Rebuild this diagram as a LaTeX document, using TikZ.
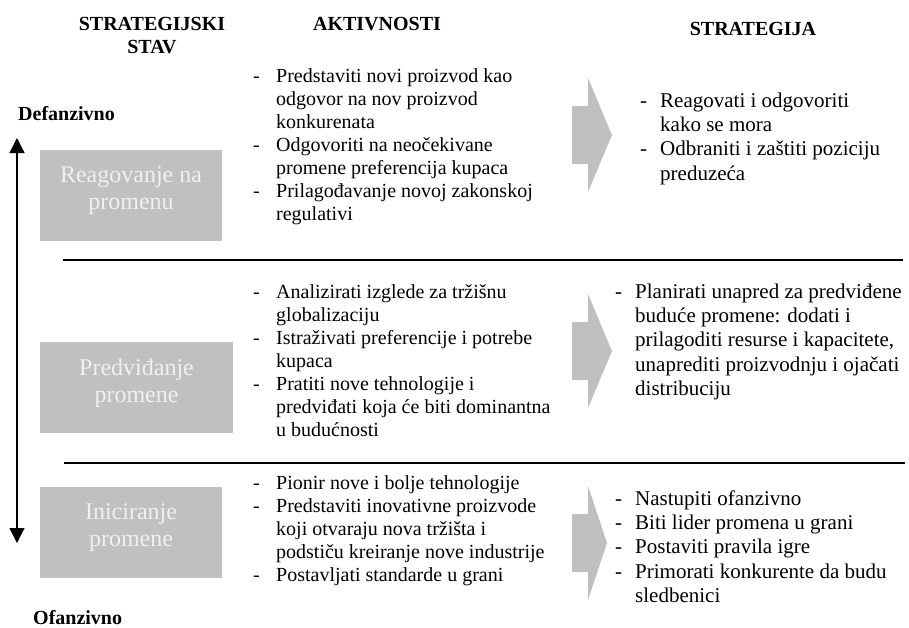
\documentclass[tikz,border=0pt]{standalone}
\usepackage{fontspec}
\setmainfont{Liberation Serif}
\usepackage{array}
\usetikzlibrary{arrows.meta}
\definecolor{boxgray}{RGB}{192,192,192}
\definecolor{labelwhite}{RGB}{240,240,240}
\newcolumntype{D}[1]{@{}p{#1}@{}l@{}}

\begin{document}
\begin{tikzpicture}[x=1pt, y=-1pt,
	heading/.style={inner sep=0, anchor=base, font=\bfseries\fontsize{20}{23}\selectfont},
	side/.style={inner sep=0, anchor=base west, font=\bfseries\fontsize{20}{23}\selectfont},
	stance/.style={fill=boxgray, text=labelwhite, inner sep=0, minimum height=91pt, align=center, font=\fontsize{24}{27}\selectfont, execute at end node={\rule[-14pt]{0pt}{0pt}}},
	activity/.style={inner sep=0, anchor=base west, font=\fontsize{20}{23}\selectfont},
	strategy/.style={inner sep=0, anchor=base west, font=\fontsize{21}{24.4}\selectfont}]

	\useasboundingbox (0,0) rectangle (909,627);

	% headings
	\node[heading] (stavhead) at (152,30) {\begin{tabular}[t]{@{}c@{}}STRATEGIJSKI\\STAV\end{tabular}};
	\node[heading] (akthead) at (377,30) {AKTIVNOSTI};
	\node[heading] (strhead) at (753,35) {STRATEGIJA};

	% defensive / offensive axis
	\node[side] (defanzivno) at (18,120) {Defanzivno};
	\node[side] (ofanzivno) at (33,624) {Ofanzivno};
	\coordinate (deftop) at (17,138);
	\coordinate (ofbottom) at (17,543);
	\draw[{Triangle[width=15pt,length=15pt]}-{Triangle[width=15pt,length=15pt]}, line width=1.3pt] (deftop) -- (ofbottom);

	% stances
	\node[stance, minimum width=182pt] (reagovanje) at (131,195.5) {Reagovanje na\\promenu};
	\node[stance, minimum width=193pt] (predvidjanje) at (136.5,387.5) {Predviđanje\\promene};
	\node[stance, minimum width=182pt] (iniciranje) at (131,532) {Iniciranje\\promene};

	% separators
	\draw[line width=2pt] (63,260) -- (903,260);
	\draw[line width=2pt] (64,463) -- (905,463);

	% activities
	\node[activity] (akt1) at (253,82) {\begin{tabular}[t]{D{23pt}}
		- & Predstaviti novi proizvod kao\\
		  & odgovor na nov proizvod\\
		  & konkurenata\\
		- & Odgovoriti na neočekivane\\
		  & promene preferencija kupaca\\
		- & Prilagođavanje novoj zakonskoj\\
		  & regulativi
	\end{tabular}};
	\node[activity] (akt2) at (253,298) {\begin{tabular}[t]{D{23pt}}
		- & Analizirati izglede za tržišnu\\
		  & globalizaciju\\
		- & Istraživati preferencije i potrebe\\
		  & kupaca\\
		- & Pratiti nove tehnologije i\\
		  & predviđati koja će biti dominantna\\
		  & u budućnosti
	\end{tabular}};
	\node[activity] (akt3) at (253,489) {\begin{tabular}[t]{D{23pt}}
		- & Pionir nove i bolje tehnologije\\
		- & Predstaviti inovativne proizvode\\
		  & koji otvaraju nova tržišta i\\
		  & podstiču kreiranje nove industrije\\
		- & Postavljati standarde u grani
	\end{tabular}};

	% arrows towards strategy
	\foreach \y/\l in {135/24, 351/24, 543/19}
		\fill[boxgray] (572,\y-29) -- (588,\y-29) -- (588,\y-57) -- (588+\l,\y) -- (588,\y+57) -- (588,\y+29) -- (572,\y+29) -- cycle;

	% strategies
	\node[strategy] (str1) at (640,107) {\begin{tabular}[t]{D{20pt}}
		- & Reagovati i odgovoriti\\
		  & kako se mora\\
		- & Odbraniti i zaštiti poziciju\\
		  & preduzeća
	\end{tabular}};
	\node[strategy] (str2) at (615,298) {\begin{tabular}[t]{D{20pt}}
		- & Planirati unapred za predviđene\\
		  & buduće promene: dodati i\\
		  & prilagoditi resurse i kapacitete,\\
		  & unaprediti proizvodnju i ojačati\\
		  & distribuciju
	\end{tabular}};
	\node[strategy] (str3) at (615,505) {\begin{tabular}[t]{D{20pt}}
		- & Nastupiti ofanzivno\\
		- & Biti lider promena u grani\\
		- & Postaviti pravila igre\\
		- & Primorati konkurente da budu\\
		  & sledbenici
	\end{tabular}};

\end{tikzpicture}
\end{document}
